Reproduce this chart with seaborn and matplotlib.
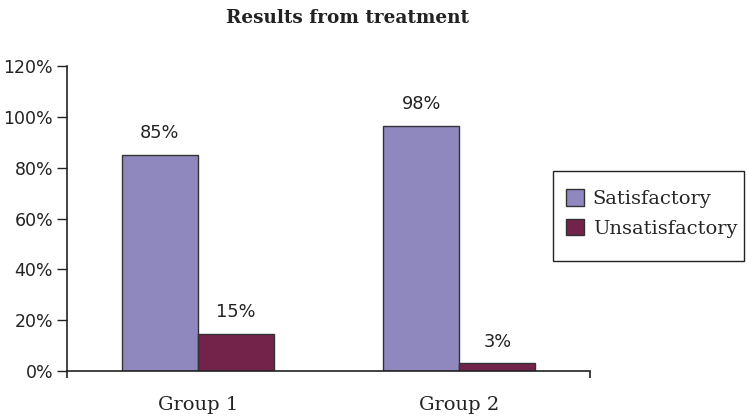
import pandas as pd
import numpy as np
import matplotlib
matplotlib.use("Agg")
import matplotlib.pyplot as plt
import seaborn as sns

# values
groups = ["Group 1", "Group 2"]
outcomes = ["Satisfactory", "Unsatisfactory"]
satisfactory = [85, 96.5]
unsatisfactory = [14.6, 3.1]
label_text = {"Satisfactory": ["85%", "98%"], "Unsatisfactory": ["15%", "3%"]}
yticks = [0, 20, 40, 60, 80, 100, 120]

df = pd.DataFrame({
    "group": groups * 2,
    "outcome": [outcomes[0]] * 2 + [outcomes[1]] * 2,
    "value": satisfactory + unsatisfactory,
})

sns.set_style("white")
plt.rcParams["font.family"] = ["DejaVu Sans"]

fig = plt.figure(figsize=(7.48, 4.17), dpi=100)
ax = fig.add_axes([0.0896, 0.1103, 0.6992, 0.7314])

pal = {"Satisfactory": "#8E88BF", "Unsatisfactory": "#73224A"}
sns.barplot(data=df, x="group", y="value", hue="outcome", order=groups,
            hue_order=outcomes, palette=pal, width=0.58, saturation=1,
            edgecolor="#333333", linewidth=1, ax=ax)

for cont, name in zip(ax.containers, outcomes):
    ax.bar_label(cont, labels=label_text[name], padding=9, fontsize=12.8,
                 color="#222222")

ax.set_xlim(-0.5, 1.5)
ax.set_ylim(0, 120)
ax.set_yticks(yticks)
ax.set_yticklabels([f"{v}%" for v in yticks], fontsize=12.5, color="#222222")
ax.set_xticks([0, 1])
ax.set_xticklabels(groups, fontsize=14, family="DejaVu Serif", color="#222222")
ax.set_xticks([-0.5, 1.5], minor=True)
ax.tick_params(axis="x", which="major", length=0, pad=18)
ax.tick_params(axis="x", which="minor", direction="out", length=5, width=1.2,
               color="#222222", bottom=True)
ax.tick_params(axis="y", direction="out", length=7, width=1, color="#222222",
               left=True, pad=3)
ax.set_xlabel("")
ax.set_ylabel("")
for s in ["top", "right"]:
    ax.spines[s].set_visible(False)
for s in ["left", "bottom"]:
    ax.spines[s].set_color("#222222")
    ax.spines[s].set_linewidth(1.2)

# legend: entries without frame, box drawn separately
ax.get_legend().remove()
handles = [plt.Rectangle((0, 0), 1, 1, facecolor=pal[o], edgecolor="#333333")
           for o in outcomes]
leg = fig.legend(handles, outcomes, loc="center left",
                 bbox_to_anchor=(566 / 748, 0.488), frameon=False,
                 prop={"family": "DejaVu Serif", "size": 14},
                 handlelength=0.93, handleheight=0.93, handletextpad=0.45,
                 borderpad=0, borderaxespad=0, labelspacing=0.55)
fig.patches.append(plt.Rectangle((553 / 748, 1 - 261 / 417), 191 / 748, 90 / 417,
                                 transform=fig.transFigure, fill=False,
                                 edgecolor="#222222", linewidth=1))

fig.text(0.464, 0.978, "Results from treatment", ha="center", va="top",
         fontsize=13.3, fontweight="bold", family="DejaVu Serif", color="#222222")

fig.savefig("out.png", dpi=100)
